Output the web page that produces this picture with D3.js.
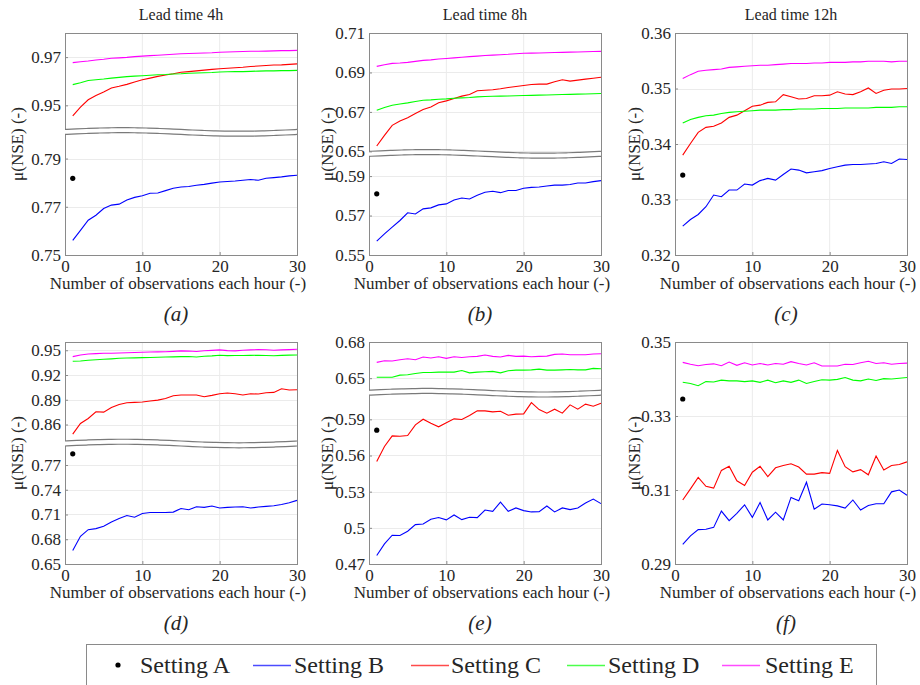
<!DOCTYPE html>
<html>
<head>
<meta charset="utf-8">
<script src="https://cdn.jsdelivr.net/npm/d3@7/dist/d3.min.js"></script>
<style>
    body { margin: 0; background: #fff; }
    text { font-family: "Liberation Serif", "Times New Roman", serif; fill: #262626; }
</style>
</head>
<body>
<div id="chart"></div>
<script>
// number of observations each hour (x axis)
var obs = [1, 2, 3, 4, 5, 6, 7, 8, 9, 10, 11, 12, 13, 14, 15, 16, 17, 18, 19, 20,
    21, 22, 23, 24, 25, 26, 27, 28, 29, 30];

var leadTitles = ["Lead time 4h", "Lead time 8h", "Lead time 12h"];
var panelLetters = ["(a)", "(b)", "(c)", "(d)", "(e)", "(f)"];
var settingNames = ["Setting A", "Setting B", "Setting C", "Setting D", "Setting E"];
var xTicks = [0, 10, 20, 30];

// Setting A is a single value at 1 observation / hour
var settingA = [0.7818, 0.5810, 0.3344, 0.7835, 0.5810, 0.3346];

// panel (a)
var aB = [0.7561, 0.7602, 0.7644, 0.7665, 0.7693, 0.7707, 0.7711, 0.7728, 0.7739, 0.7746,
    0.7756, 0.7757, 0.7767, 0.7777, 0.7782, 0.7784, 0.7789, 0.7793, 0.7798, 0.7803,
    0.7805, 0.7807, 0.7810, 0.7813, 0.7810, 0.7818, 0.7821, 0.7824, 0.7828, 0.7831];
var aC = [0.9456, 0.9493, 0.9523, 0.9541, 0.9555, 0.9572, 0.9579, 0.9587, 0.9597, 0.9606,
    0.9613, 0.9620, 0.9626, 0.9631, 0.9637, 0.9640, 0.9643, 0.9646, 0.9649, 0.9652,
    0.9654, 0.9656, 0.9658, 0.9661, 0.9663, 0.9665, 0.9667, 0.9668, 0.9670, 0.9672];
var aD = [0.9586, 0.9594, 0.9603, 0.9606, 0.9609, 0.9613, 0.9616, 0.9619, 0.9621, 0.9623,
    0.9625, 0.9627, 0.9628, 0.9630, 0.9631, 0.9633, 0.9634, 0.9635, 0.9636, 0.9638,
    0.9639, 0.9640, 0.9640, 0.9641, 0.9642, 0.9643, 0.9643, 0.9644, 0.9644, 0.9645];
var aE = [0.9677, 0.9681, 0.9684, 0.9688, 0.9691, 0.9695, 0.9697, 0.9699, 0.9702, 0.9704,
    0.9706, 0.9708, 0.9710, 0.9712, 0.9714, 0.9715, 0.9716, 0.9717, 0.9718, 0.9720,
    0.9721, 0.9722, 0.9723, 0.9724, 0.9724, 0.9725, 0.9726, 0.9727, 0.9727, 0.9728];

// panel (b)
var bB = [0.5570, 0.5607, 0.5641, 0.5675, 0.5714, 0.5708, 0.5734, 0.5739, 0.5754, 0.5759,
    0.5779, 0.5789, 0.5784, 0.5803, 0.5818, 0.5823, 0.5816, 0.5827, 0.5827, 0.5838,
    0.5843, 0.5845, 0.5850, 0.5854, 0.5854, 0.5857, 0.5865, 0.5865, 0.5872, 0.5877];
var bC = [0.6527, 0.6581, 0.6632, 0.6654, 0.6671, 0.6692, 0.6712, 0.6725, 0.6746, 0.6756,
    0.6768, 0.6780, 0.6788, 0.6807, 0.6810, 0.6812, 0.6817, 0.6824, 0.6829, 0.6834,
    0.6839, 0.6841, 0.6841, 0.6853, 0.6863, 0.6856, 0.6861, 0.6866, 0.6871, 0.6876];
var bD = [0.6708, 0.6722, 0.6734, 0.6740, 0.6746, 0.6753, 0.6759, 0.6761, 0.6764, 0.6766,
    0.6769, 0.6771, 0.6773, 0.6776, 0.6778, 0.6779, 0.6780, 0.6781, 0.6782, 0.6783,
    0.6784, 0.6785, 0.6786, 0.6787, 0.6788, 0.6789, 0.6790, 0.6791, 0.6792, 0.6793];
var bE = [0.6931, 0.6939, 0.6946, 0.6948, 0.6951, 0.6956, 0.6961, 0.6964, 0.6968, 0.6971,
    0.6974, 0.6977, 0.6980, 0.6983, 0.6986, 0.6988, 0.6990, 0.6992, 0.6995, 0.6997,
    0.6998, 0.6999, 0.7000, 0.7001, 0.7002, 0.7003, 0.7004, 0.7005, 0.7006, 0.7007];

// panel (c)
var cB = [0.3252, 0.3264, 0.3273, 0.3287, 0.3308, 0.3305, 0.3317, 0.3317, 0.3328, 0.3326,
    0.3334, 0.3338, 0.3335, 0.3345, 0.3355, 0.3353, 0.3348, 0.3350, 0.3352, 0.3356,
    0.3359, 0.3362, 0.3363, 0.3363, 0.3364, 0.3365, 0.3368, 0.3365, 0.3373, 0.3372];
var cC = [0.3380, 0.3401, 0.3421, 0.3430, 0.3432, 0.3438, 0.3448, 0.3452, 0.3460, 0.3468,
    0.3470, 0.3475, 0.3476, 0.3489, 0.3485, 0.3481, 0.3482, 0.3487, 0.3487, 0.3488,
    0.3494, 0.3490, 0.3489, 0.3494, 0.3501, 0.3491, 0.3497, 0.3499, 0.3499, 0.3500];
var cD = [0.3438, 0.3444, 0.3448, 0.3451, 0.3452, 0.3455, 0.3457, 0.3458, 0.3459, 0.3460,
    0.3461, 0.3461, 0.3461, 0.3462, 0.3462, 0.3463, 0.3463, 0.3463, 0.3464, 0.3464,
    0.3464, 0.3465, 0.3465, 0.3465, 0.3465, 0.3466, 0.3466, 0.3466, 0.3467, 0.3467];
var cE = [0.3518, 0.3525, 0.3531, 0.3533, 0.3534, 0.3535, 0.3538, 0.3539, 0.3540, 0.3541,
    0.3542, 0.3542, 0.3543, 0.3544, 0.3545, 0.3545, 0.3545, 0.3546, 0.3546, 0.3547,
    0.3547, 0.3547, 0.3548, 0.3548, 0.3549, 0.3549, 0.3549, 0.3548, 0.3549, 0.3549];

// panel (d)
var dB = [0.6663, 0.6835, 0.6916, 0.6929, 0.6957, 0.7010, 0.7051, 0.7088, 0.7067, 0.7112,
    0.7124, 0.7124, 0.7124, 0.7129, 0.7173, 0.7157, 0.7194, 0.7186, 0.7202, 0.7178,
    0.7186, 0.7190, 0.7194, 0.7178, 0.7190, 0.7198, 0.7206, 0.7222, 0.7243, 0.7271];
var dC = [0.8483, 0.8612, 0.8673, 0.8754, 0.8750, 0.8807, 0.8843, 0.8864, 0.8868, 0.8872,
    0.8884, 0.8896, 0.8916, 0.8949, 0.8957, 0.8957, 0.8957, 0.8937, 0.8953, 0.8973,
    0.8981, 0.8973, 0.8957, 0.8973, 0.8969, 0.8985, 0.8989, 0.9034, 0.9018, 0.9022];
var dD = [0.9366, 0.9370, 0.9378, 0.9384, 0.9391, 0.9396, 0.9403, 0.9406, 0.9408, 0.9411,
    0.9413, 0.9416, 0.9418, 0.9420, 0.9423, 0.9424, 0.9419, 0.9428, 0.9432, 0.9439,
    0.9435, 0.9437, 0.9437, 0.9438, 0.9439, 0.9437, 0.9433, 0.9438, 0.9441, 0.9443];
var dE = [0.9423, 0.9443, 0.9455, 0.9459, 0.9463, 0.9464, 0.9467, 0.9470, 0.9472, 0.9476,
    0.9478, 0.9480, 0.9482, 0.9486, 0.9492, 0.9490, 0.9484, 0.9494, 0.9498, 0.9504,
    0.9496, 0.9492, 0.9500, 0.9504, 0.9508, 0.9506, 0.9500, 0.9504, 0.9508, 0.9512];

// panel (e)
var eB = [0.4770, 0.4867, 0.4939, 0.4936, 0.4972, 0.5027, 0.5032, 0.5071, 0.5085, 0.5066,
    0.5107, 0.5068, 0.5088, 0.5085, 0.5148, 0.5137, 0.5214, 0.5137, 0.5165, 0.5143,
    0.5132, 0.5134, 0.5181, 0.5132, 0.5165, 0.5151, 0.5165, 0.5206, 0.5239, 0.5201];
var eC = [0.5551, 0.5675, 0.5763, 0.5760, 0.5766, 0.5854, 0.5901, 0.5868, 0.5838, 0.5871,
    0.5904, 0.5899, 0.5932, 0.5970, 0.5970, 0.5962, 0.5967, 0.5934, 0.5943, 0.5945,
    0.6039, 0.5981, 0.5951, 0.5984, 0.5951, 0.6020, 0.5984, 0.6026, 0.6009, 0.6034];
var eD = [0.6508, 0.6508, 0.6508, 0.6525, 0.6528, 0.6539, 0.6547, 0.6547, 0.6550, 0.6550,
    0.6550, 0.6564, 0.6544, 0.6550, 0.6553, 0.6556, 0.6544, 0.6561, 0.6567, 0.6567,
    0.6569, 0.6575, 0.6567, 0.6567, 0.6569, 0.6572, 0.6569, 0.6569, 0.6581, 0.6578];
var eE = [0.6631, 0.6644, 0.6642, 0.6653, 0.6661, 0.6653, 0.6675, 0.6667, 0.6678, 0.6664,
    0.6678, 0.6672, 0.6678, 0.6681, 0.6692, 0.6681, 0.6675, 0.6689, 0.6681, 0.6683,
    0.6678, 0.6681, 0.6683, 0.6697, 0.6700, 0.6694, 0.6694, 0.6694, 0.6700, 0.6703];

// panel (f)
var fB = [0.2953, 0.2976, 0.2993, 0.2994, 0.2999, 0.3043, 0.3017, 0.3037, 0.3060, 0.3026,
    0.3066, 0.3019, 0.3040, 0.3019, 0.3080, 0.3071, 0.3121, 0.3048, 0.3062, 0.3060,
    0.3057, 0.3051, 0.3073, 0.3046, 0.3058, 0.3063, 0.3063, 0.3095, 0.3100, 0.3086];
var fC = [0.3073, 0.3103, 0.3134, 0.3110, 0.3105, 0.3153, 0.3164, 0.3125, 0.3112, 0.3148,
    0.3164, 0.3136, 0.3160, 0.3166, 0.3171, 0.3162, 0.3143, 0.3143, 0.3147, 0.3145,
    0.3207, 0.3163, 0.3149, 0.3155, 0.3141, 0.3192, 0.3154, 0.3166, 0.3169, 0.3176];
var fD = [0.3391, 0.3388, 0.3382, 0.3393, 0.3392, 0.3397, 0.3395, 0.3395, 0.3393, 0.3395,
    0.3391, 0.3397, 0.3390, 0.3395, 0.3391, 0.3397, 0.3388, 0.3393, 0.3398, 0.3397,
    0.3399, 0.3404, 0.3397, 0.3395, 0.3400, 0.3396, 0.3401, 0.3400, 0.3402, 0.3404];
var fE = [0.3445, 0.3440, 0.3436, 0.3439, 0.3441, 0.3436, 0.3446, 0.3437, 0.3444, 0.3438,
    0.3442, 0.3438, 0.3442, 0.3440, 0.3447, 0.3442, 0.3438, 0.3444, 0.3435, 0.3435,
    0.3435, 0.3440, 0.3439, 0.3444, 0.3448, 0.3442, 0.3444, 0.3440, 0.3442, 0.3443];

// y axis setup per panel: broken axes have a top and a bottom part
var aTop = [0.94, 0.98], aTopTicks = [0.95, 0.97], aBot = [0.75, 0.80], aBotTicks = [0.75, 0.77, 0.79];
var bTop = [0.65, 0.71], bTopTicks = [0.65, 0.67, 0.69, 0.71], bBot = [0.55, 0.60], bBotTicks = [0.55, 0.57, 0.59];
var cDom = [0.32, 0.36], cTicks = [0.32, 0.33, 0.34, 0.35, 0.36];
var dTop = [0.84, 0.96], dTopTicks = [0.86, 0.89, 0.92, 0.95], dBot = [0.65, 0.793], dBotTicks = [0.65, 0.68, 0.71, 0.74, 0.77];
var eTop = [0.64, 0.68], eTopTicks = [0.65, 0.68], eBot = [0.47, 0.61], eBotTicks = [0.47, 0.5, 0.53, 0.56, 0.59];
var fDom = [0.29, 0.35], fTicks = [0.29, 0.31, 0.33, 0.35];

var lineColors = ["#0000ff", "#ff0000", "#00ff00", "#ff00ff"];

var panels = [
    { series: [aB, aC, aD, aE], dot: settingA[0], top: aTop, topTicks: aTopTicks, bot: aBot, botTicks: aBotTicks },
    { series: [bB, bC, bD, bE], dot: settingA[1], top: bTop, topTicks: bTopTicks, bot: bBot, botTicks: bBotTicks },
    { series: [cB, cC, cD, cE], dot: settingA[2], dom: cDom, ticks: cTicks },
    { series: [dB, dC, dD, dE], dot: settingA[3], top: dTop, topTicks: dTopTicks, bot: dBot, botTicks: dBotTicks },
    { series: [eB, eC, eD, eE], dot: settingA[4], top: eTop, topTicks: eTopTicks, bot: eBot, botTicks: eBotTicks },
    { series: [fB, fC, fD, fE], dot: settingA[5], dom: fDom, ticks: fTicks }
];

var width = 920, height = 685;
var colLeft = [65, 369, 675], plotW = 232;
var rowTop = [33, 342], plotH = 222;
var yLabelX = [17, 327, 634];
var GAP = 5;

var svg = d3.select("#chart")
    .append("svg")
    .attr("width", width)
    .attr("height", height);

panels.forEach(function (p, i) {
    var col = i % 3, row = Math.floor(i / 3);
    var g = svg.append("g")
        .attr("transform", "translate(" + colLeft[col] + "," + rowTop[row] + ")");
    drawPanel(g, p, i);

    if (row === 0) {
        svg.append("text")
            .attr("x", colLeft[col] + plotW / 2)
            .attr("y", 20)
            .attr("text-anchor", "middle")
            .style("font-size", "16px")
            .text(leadTitles[col]);
    }
    // letter under the panel
    svg.append("text")
        .attr("x", colLeft[col] + plotW / 2 - 5)
        .attr("y", rowTop[row] + plotH + 66)
        .attr("text-anchor", "middle")
        .style("font-size", "21px")
        .style("font-style", "italic")
        .text(panelLetters[i]);
    // y label
    svg.append("text")
        .attr("transform", "translate(" + (yLabelX[col] + 6) + "," + (rowTop[row] + plotH / 2) + ") rotate(-90)")
        .attr("text-anchor", "middle")
        .style("font-size", "17px")
        .text("\u03bc(NSE) (-)");
});

function drawPanel(g, p, idx) {
    var w = plotW, h = plotH;
    var x = d3.scaleLinear().domain([0, 30]).range([0, w]);
    var segs = [];
    var hTop = 0;
    if (p.top) {
        var span = (p.top[1] - p.top[0]) + (p.bot[1] - p.bot[0]);
        var k = (h - GAP) / span;
        hTop = (p.top[1] - p.top[0]) * k;
        segs.push({ scale: d3.scaleLinear().domain(p.top).range([hTop, 0]), ticks: p.topTicks, y0: 0, y1: hTop });
        segs.push({ scale: d3.scaleLinear().domain(p.bot).range([h, hTop + GAP]), ticks: p.botTicks, y0: hTop + GAP, y1: h });
    } else {
        segs.push({ scale: d3.scaleLinear().domain(p.dom).range([h, 0]), ticks: p.ticks, y0: 0, y1: h });
    }
    function y(v) {
        var s = (segs.length > 1 && v < p.top[0]) ? segs[1] : segs[0];
        return s.scale(v);
    }

    // grid lines
    segs.forEach(function (s) {
        g.append("g").selectAll("line.vg")
            .data([10, 20])
            .enter().append("line")
            .attr("x1", function (d) { return x(d); })
            .attr("x2", function (d) { return x(d); })
            .attr("y1", s.y0).attr("y2", s.y1)
            .style("stroke", "#ebebeb");
        g.append("g").selectAll("line.hg")
            .data(s.ticks)
            .enter().append("line")
            .attr("x1", 0).attr("x2", w)
            .attr("y1", function (d) { return Math.round(s.scale(d)) + 0.5; })
            .attr("y2", function (d) { return Math.round(s.scale(d)) + 0.5; })
            .style("stroke", "#ebebeb");
    });

    // series lines
    var line = d3.line()
        .x(function (d, i) { return x(obs[i]); })
        .y(function (d) { return y(d); });
    p.series.forEach(function (s, si) {
        g.append("path")
            .datum(s)
            .attr("d", line)
            .style("fill", "none")
            .style("stroke", lineColors[si])
            .style("stroke-width", 1.1);
    });

    // setting A dot
    g.append("circle")
        .attr("cx", x(obs[0]))
        .attr("cy", y(p.dot))
        .attr("r", 2.6)
        .style("fill", "#000");

    // frame
    g.append("rect")
        .attr("x", 0.5).attr("y", 0.5)
        .attr("width", w).attr("height", h)
        .style("fill", "none")
        .style("stroke", "#8a8a8a");

    // axis break
    if (p.top) {
        var wave = d3.line()
            .x(function (t) { return t * w; })
            .y(function (t) { return -1.8 * Math.sin(2 * Math.PI * t); })
            .curve(d3.curveBasis);
        var ts = d3.range(0, 1.0001, 0.05);
        var area = d3.area()
            .x(function (t) { return t * w; })
            .y0(function (t) { return hTop - 1.8 * Math.sin(2 * Math.PI * t); })
            .y1(function (t) { return hTop + GAP - 1.8 * Math.sin(2 * Math.PI * t); });
        g.append("path").datum(ts).attr("d", area).style("fill", "#fff");
        [hTop, hTop + GAP].forEach(function (yb) {
            g.append("path")
                .datum(ts)
                .attr("transform", "translate(0," + yb + ")")
                .attr("d", wave)
                .style("fill", "none")
                .style("stroke", "#7a7a7a")
                .style("stroke-width", 1.2);
        });
        g.append("line").attr("x1", w + 0.5).attr("x2", w + 0.5).attr("y1", hTop - 3).attr("y2", hTop + GAP + 3)
            .style("stroke", "#8a8a8a");
    }

    // y axes
    segs.forEach(function (s) {
        var ax = g.append("g")
            .call(d3.axisLeft(s.scale).tickValues(s.ticks).tickSize(-3).tickPadding(4)
                .tickFormat(function (d) { return String(d); }));
        ax.select(".domain").remove();
        ax.selectAll("line").style("stroke", "#8a8a8a");
        ax.selectAll("text").style("font-size", "17px").style("font-family", "Liberation Serif").style("fill", "#262626");
    });

    // x axis
    var xa = g.append("g")
        .attr("transform", "translate(0," + h + ")")
        .call(d3.axisBottom(x).tickValues(xTicks).tickSize(-3).tickPadding(5));
    xa.select(".domain").remove();
    xa.selectAll("line").style("stroke", "#8a8a8a");
    xa.selectAll("text").style("font-size", "17px").style("font-family", "Liberation Serif").style("fill", "#262626");

    g.append("text")
        .attr("x", w / 2 - 3)
        .attr("y", h + 34)
        .attr("text-anchor", "middle")
        .style("font-size", "17px")
        .text("Number of observations each hour (-)");
}

// ****************** legend ***************************
var legend = svg.append("g");
legend.append("rect")
    .attr("x", 86.5).attr("y", 644.5)
    .attr("width", 790).attr("height", 60)
    .style("fill", "#fff")
    .style("stroke", "#8a8a8a");
var legX = [118, 253, 411, 567, 722];
var legTextX = [140, 294, 451, 608, 765];
settingNames.forEach(function (name, i) {
    if (i === 0) {
        legend.append("circle").attr("cx", legX[i]).attr("cy", 665).attr("r", 2.6).style("fill", "#000");
    } else {
        legend.append("line")
            .attr("x1", legX[i]).attr("x2", legX[i] + 38)
            .attr("y1", 665.5).attr("y2", 665.5)
            .style("stroke", lineColors[i - 1])
            .style("stroke-width", 1.4)
            .style("opacity", 0.7);
    }
    legend.append("text")
        .attr("x", legTextX[i])
        .attr("y", 673)
        .style("font-size", "24px")
        .text(name);
});
</script>
</body>
</html>
